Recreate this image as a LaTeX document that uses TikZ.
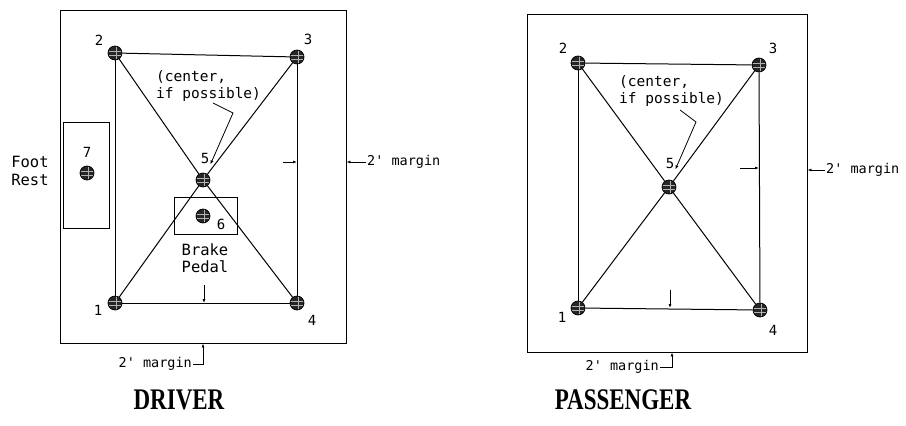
\documentclass[tikz,border=0pt]{standalone}
\usepackage{fontspec}
\setmainfont{Liberation Serif}
\newfontfamily\plotfont{DejaVu Sans Mono}
\usetikzlibrary{arrows.meta,positioning,calc}
\tikzset{
  frame/.style={draw, line width=0.9pt, inner sep=0pt},
  spot/.style={circle, draw, line width=0.7pt, fill=black!85, minimum size=14pt, inner sep=0pt,
    path picture={
      \draw[white!70!black, line width=0.45pt]
        ([yshift=2pt]path picture bounding box.west) -- ([yshift=2pt]path picture bounding box.east)
        ([yshift=-2pt]path picture bounding box.west) -- ([yshift=-2pt]path picture bounding box.east)
        ([xshift=1pt]path picture bounding box.north) -- ([xshift=1pt]path picture bounding box.south);}},
  num/.style={font=\plotfont\fontsize{14}{14}\selectfont, inner sep=1pt},
  note/.style={font=\plotfont\fontsize{14.5}{16.5}\selectfont, inner sep=1pt, align=left},
  mnote/.style={font=\plotfont\fontsize{13.5}{14}\selectfont, inner sep=1pt},
  part/.style={font=\plotfont\fontsize{15.5}{17.5}\selectfont, inner sep=1pt, align=center},
  title/.style={font=\fontsize{23}{23}\selectfont\bfseries},
  edge/.style={line width=1pt},
  arrow/.style={-{Latex[length=4pt,width=3pt]}, line width=0.8pt}
}

\begin{document}
\begin{tikzpicture}[x=1pt, y=-1pt]
    \useasboundingbox (0,0) rectangle (906,426);
    % driver
    \node[frame, minimum width=286pt, minimum height=333pt] (dframe) at (203,176.5) {};
    \node[frame, minimum width=46pt, minimum height=106pt] (rest) at (86,175) {};
    \node[frame, minimum width=63pt, minimum height=37pt] (pedal) at (205.5,215.5) {};
    \node[spot] (d1) at (115,303) {};
    \node[spot] (d2) at (115,53) {};
    \node[spot] (d3) at (297,57) {};
    \node[spot] (d4) at (297,303) {};
    \node[spot] (d5) at (203,180) {};
    \node[spot] (d6) at (203,216) {};
    \node[spot] (d7) at (87,173) {};
    \foreach \a/\b in {d1/d2,d2/d3,d3/d4,d4/d1,d2/d5,d3/d5,d5/d1,d5/d4}
      \draw[edge] (\a) -- (\b);
    \node[num] (d1n) at (98,310) {1};
    \node[num] (d2n) at (99,40) {2};
    \node[num] (d3n) at (308,39) {3};
    \node[num] (d4n) at (312,320) {4};
    \node[num] (d5n) at (205,158) {5};
    \node[num] (d6n) at (221,224) {6};
    \node[num] (d7n) at (87,152) {7};
    \node[note, anchor=west] (dnote) at (155,86) {(center,\\if possible)};
    \coordinate (dlead) at (213,103);
    \draw[arrow] (dlead) -- (233,113) -- (d5n.south east);
    \node[part] (restlbl) at (30,171) {Foot\\Rest};
    \node[part] (pedallbl) at (205,258) {Brake\\Pedal};
    \coordinate (din) at (283,162);
    \draw[arrow] (din) -- (din -| d3);
    \coordinate (dbt) at (204,285);
    \draw[arrow] (dbt) -- (dbt |- d1);
    \node[mnote, anchor=west] (dmr) at (366,162) {2' margin};
    \draw[arrow] (dmr.west) -- (dmr.west -| dframe.east);
    \node[mnote, anchor=east] (dmb) at (193,364) {2' margin};
    \draw[arrow] (dmb.east) -| (dframe.south);
    \node[title] (dtitle) at (179,400) {\scalebox{1}[1.3]{DRIVER}};
    % passenger
    \node[frame, minimum width=280pt, minimum height=338pt] (pframe) at (667,183) {};
    \node[spot] (p1) at (578,308) {};
    \node[spot] (p2) at (578,63) {};
    \node[spot] (p3) at (759,65) {};
    \node[spot] (p4) at (760,310) {};
    \node[spot] (p5) at (669,187) {};
    \foreach \a/\b in {p1/p2,p2/p3,p3/p4,p4/p1,p2/p5,p3/p5,p5/p1,p5/p4}
      \draw[edge] (\a) -- (\b);
    \node[num] (p1n) at (562,317) {1};
    \node[num] (p2n) at (563,48) {2};
    \node[num] (p3n) at (773,48) {3};
    \node[num] (p4n) at (773,330) {4};
    \node[num] (p5n) at (670,163) {5};
    \node[note, anchor=west] (pnote) at (618,91) {(center,\\if possible)};
    \coordinate (plead) at (680,110);
    \draw[arrow] (plead) -- (696,122) -- (p5n.south east);
    \coordinate (pin) at (740,168);
    \draw[arrow] (pin) -- (pin -| p3);
    \coordinate (pbt) at (670,290);
    \draw[arrow] (pbt) -- (pbt |- p1);
    \node[mnote, anchor=west] (pmr) at (825,170) {2' margin};
    \draw[arrow] (pmr.west) -- (pmr.west -| pframe.east);
    \node[mnote, anchor=east] (pmb) at (660,367) {2' margin};
    \draw[arrow] (pmb.east) -| ([xshift=5pt]pframe.south);
    \node[title] (ptitle) at (623,400) {\scalebox{1}[1.3]{PASSENGER}};
\end{tikzpicture}
\end{document}
